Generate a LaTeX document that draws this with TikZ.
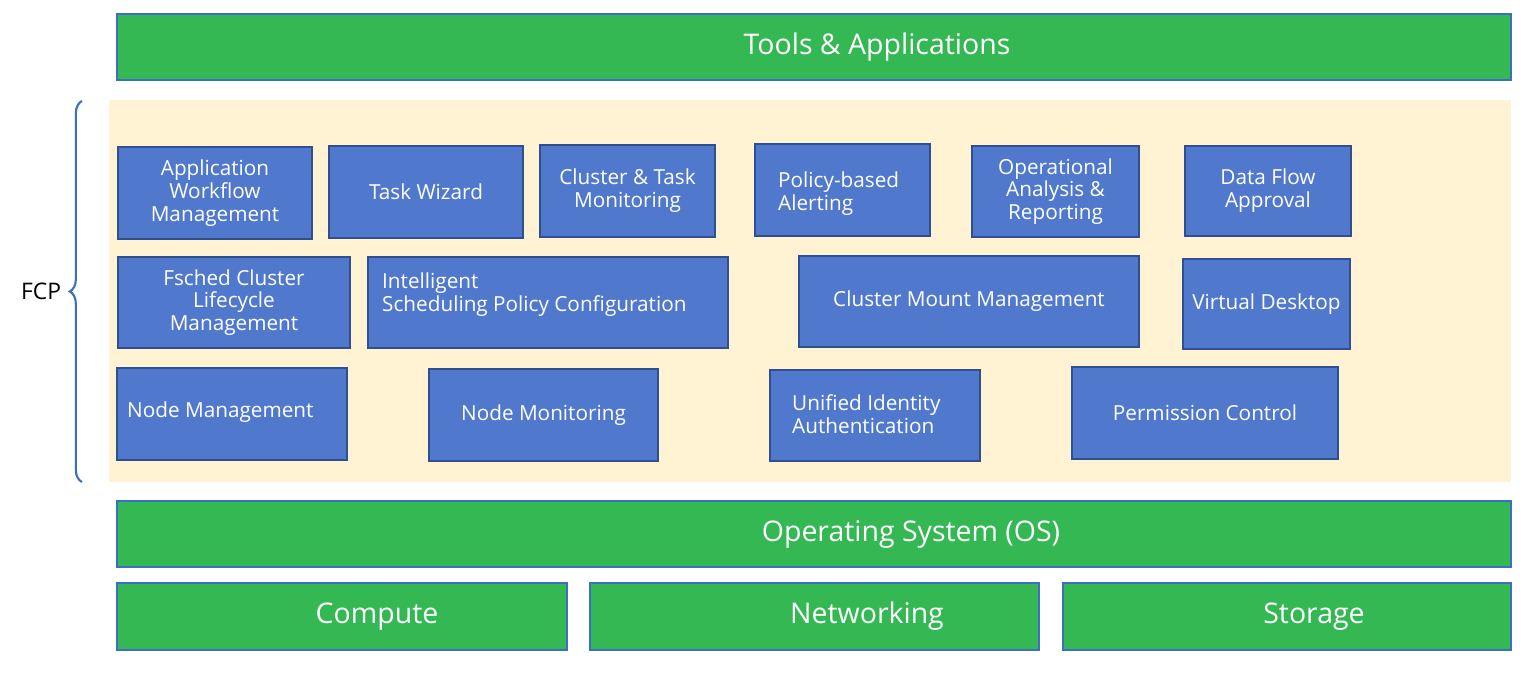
\documentclass[tikz,border=0pt]{standalone}
\usepackage{fontspec}
\setmainfont{Open Sans}
\usetikzlibrary{decorations.pathreplacing}
\definecolor{gr}{HTML}{34B853}
\definecolor{grb}{HTML}{3A6FC4}
\definecolor{bl}{HTML}{5079CE}
\definecolor{blb}{HTML}{2F4F8F}
\definecolor{bg}{HTML}{FFF3D4}
\tikzset{x=0.02cm,y=-0.02cm,
 greenbox/.style={draw=grb,fill=gr,line width=0.8pt},
 greenlbl/.style={text=white,font=\fontsize{16.2}{19}\selectfont},
 bluebox/.style={draw=blb,fill=bl,line width=0.8pt,text=white,font=\fontsize{11.8}{13}\selectfont,align=center},
 bluelbl/.style={text=white,font=\fontsize{11.8}{13}\selectfont,align=left,anchor=west}}
\newcommand{\gbox}[7]{\draw[greenbox] (#2,#3) rectangle (#4,#5); \node[greenlbl] (#1) at (#6,{(#3+#5)/2}) {#7};}
\newcommand{\bbox}[6]{\draw[bluebox] (#2,#3) rectangle (#4,#5) node[pos=.5] (#1) {#6};}
\begin{document}
\begin{tikzpicture}
\useasboundingbox (0,0) rectangle (1534,677);
\fill[bg] (109,100) rectangle (1511,482);
\gbox{tools}{117}{14}{1511}{80}{877}{Tools \& Applications}
\gbox{os}{117}{501}{1511}{567}{911}{Operating System (OS)}
\gbox{comp}{117}{583}{567}{650}{377}{Compute}
\gbox{net}{590}{583}{1039}{650}{867}{Networking}
\gbox{sto}{1063}{583}{1511}{650}{1314}{Storage}
\bbox{awm}{118}{147}{312}{239}{Application\\Workflow\\Management}
\bbox{tw}{329}{146}{523}{238}{Task Wizard}
\bbox{ctm}{540}{145}{715}{237}{Cluster \& Task\\Monitoring}
\draw[bluebox] (755,144) rectangle (930,236);
\node[bluelbl] (pba) at (772,194) {Policy-based\\Alerting};
\bbox{oar}{972}{146}{1139}{237}{Operational\\Analysis \&\\Reporting}
\bbox{dfa}{1185}{146}{1351}{236}{Data Flow\\Approval}
\bbox{fclm}{118}{257}{350}{348}{Fsched Cluster\\Lifecycle\\Management}
\draw[bluebox] (368,257) rectangle (728,348);
\node[bluelbl] (isp) at (376,295) {Intelligent\\Scheduling Policy Configuration};
\bbox{cmm}{799}{256}{1139}{347}{Cluster Mount Management}
\bbox{vd}{1183}{259}{1350}{349}{Virtual Desktop}
\draw[bluebox] (117,368) rectangle (347,460);
\node[bluelbl] (nm) at (121,412) {Node Management};
\bbox{nmo}{429}{369}{658}{461}{Node Monitoring}
\draw[bluebox] (770,370) rectangle (980,461);
\node[bluelbl] (uia) at (786,414) {Unified Identity\\Authentication};
\bbox{pc}{1072}{367}{1338}{459}{Permission Control}
\coordinate (bt) at (82,482);
\coordinate (bb) at (82,101);
\draw[grb,line width=1.2pt,decorate,decoration={brace,amplitude=7pt}] (bt) -- (bb) node[midway,left=8pt,text=black,font=\fontsize{13}{15}\selectfont] (fcp) {FCP};
\end{tikzpicture}
\end{document}
